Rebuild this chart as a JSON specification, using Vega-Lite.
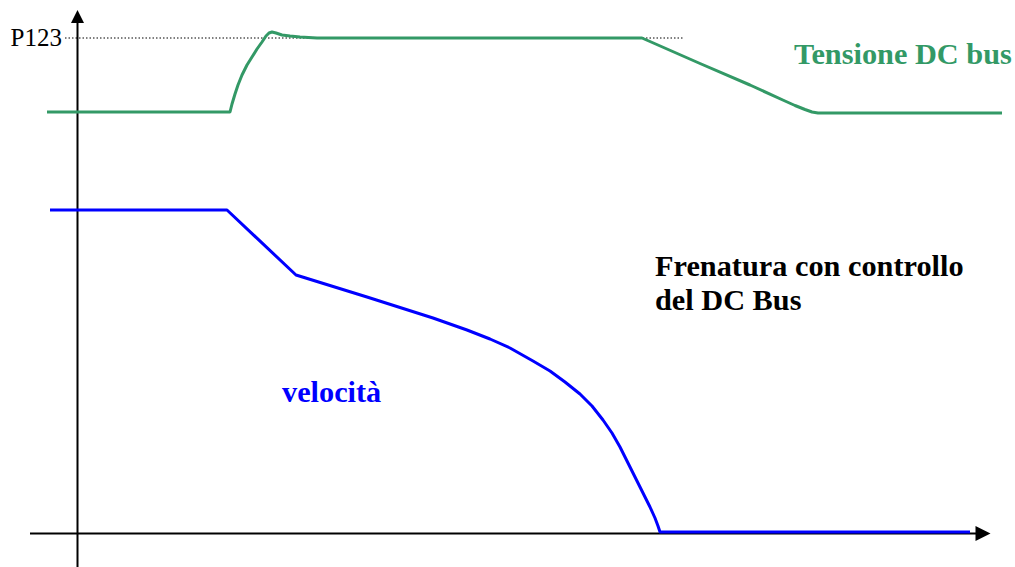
{
  "$schema": "https://vega.github.io/schema/vega-lite/v6.json",
  "width": 1015,
  "height": 567,
  "padding": 0,
  "autosize": "none",
  "config": {"view": {"stroke": null}, "axis": {"grid": false}},
  "datasets": {
    "curves": [
      {"series": "dc", "t": 47, "v": 112},
      {"series": "dc", "t": 230, "v": 112},
      {"series": "dc", "t": 232, "v": 104},
      {"series": "dc", "t": 235, "v": 94},
      {"series": "dc", "t": 238, "v": 85},
      {"series": "dc", "t": 242, "v": 75},
      {"series": "dc", "t": 247, "v": 65},
      {"series": "dc", "t": 252, "v": 57},
      {"series": "dc", "t": 257, "v": 49},
      {"series": "dc", "t": 262, "v": 42},
      {"series": "dc", "t": 266, "v": 36},
      {"series": "dc", "t": 269, "v": 33},
      {"series": "dc", "t": 272, "v": 32},
      {"series": "dc", "t": 276, "v": 33},
      {"series": "dc", "t": 282, "v": 35},
      {"series": "dc", "t": 290, "v": 36},
      {"series": "dc", "t": 300, "v": 37},
      {"series": "dc", "t": 317, "v": 38},
      {"series": "dc", "t": 642, "v": 38},
      {"series": "dc", "t": 700, "v": 63.5},
      {"series": "dc", "t": 750, "v": 85},
      {"series": "dc", "t": 785, "v": 101},
      {"series": "dc", "t": 795, "v": 105.5},
      {"series": "dc", "t": 805, "v": 109.5},
      {"series": "dc", "t": 812, "v": 112},
      {"series": "dc", "t": 818, "v": 113},
      {"series": "dc", "t": 1002, "v": 113},
      {"series": "speed", "t": 50, "v": 210},
      {"series": "speed", "t": 227, "v": 210},
      {"series": "speed", "t": 296, "v": 275},
      {"series": "speed", "t": 367, "v": 297},
      {"series": "speed", "t": 433, "v": 318},
      {"series": "speed", "t": 467, "v": 330},
      {"series": "speed", "t": 490, "v": 339},
      {"series": "speed", "t": 510, "v": 348},
      {"series": "speed", "t": 533, "v": 361},
      {"series": "speed", "t": 550, "v": 371},
      {"series": "speed", "t": 565, "v": 382},
      {"series": "speed", "t": 580, "v": 394},
      {"series": "speed", "t": 592, "v": 406},
      {"series": "speed", "t": 603, "v": 420},
      {"series": "speed", "t": 612, "v": 433},
      {"series": "speed", "t": 620, "v": 447},
      {"series": "speed", "t": 628, "v": 463},
      {"series": "speed", "t": 636, "v": 479},
      {"series": "speed", "t": 644, "v": 495},
      {"series": "speed", "t": 650, "v": 507},
      {"series": "speed", "t": 655, "v": 518},
      {"series": "speed", "t": 658, "v": 526},
      {"series": "speed", "t": 660, "v": 532},
      {"series": "speed", "t": 970, "v": 532}
    ],
    "labels": [
      {"series": "dc", "text": "Tensione DC bus", "t": 794, "v": 64},
      {"series": "note", "text": "Frenatura con controllo", "t": 655, "v": 276},
      {"series": "note", "text": "del DC Bus", "t": 655, "v": 310},
      {"series": "speed", "text": "velocità", "t": 282, "v": 402}
    ]
  },
  "layer": [
    {
      "data": {"values": [{"t": 77.5, "v": 22, "v2": 567}]},
      "mark": {"type": "rule", "color": "black", "strokeWidth": 2},
      "encoding": {
        "x": {"field": "t", "type": "quantitative", "scale": {"domain": [0, 1015]}, "axis": null},
        "y": {"field": "v", "type": "quantitative", "scale": {"domain": [0, 567], "reverse": true}, "axis": null},
        "y2": {"field": "v2"}
      }
    },
    {
      "data": {"values": [{"t": 30, "t2": 980, "v": 533.5}]},
      "mark": {"type": "rule", "color": "black", "strokeWidth": 2},
      "encoding": {
        "x": {"field": "t", "type": "quantitative", "scale": {"domain": [0, 1015]}, "axis": null},
        "x2": {"field": "t2"},
        "y": {"field": "v", "type": "quantitative", "scale": {"domain": [0, 567], "reverse": true}, "axis": null}
      }
    },
    {
      "data": {"values": [{"t": 65, "t2": 683, "v": 38}]},
      "mark": {"type": "rule", "color": "black", "strokeWidth": 1, "strokeDash": [1.5, 2]},
      "encoding": {
        "x": {"field": "t", "type": "quantitative", "scale": {"domain": [0, 1015]}, "axis": null},
        "x2": {"field": "t2"},
        "y": {"field": "v", "type": "quantitative", "scale": {"domain": [0, 567], "reverse": true}, "axis": null}
      }
    },
    {
      "data": {"values": [{"t": 77.5, "v": 16.5}]},
      "mark": {"type": "point", "shape": "M-1,1L1,1L0,-1Z", "filled": true, "color": "black", "opacity": 1, "size": 169},
      "encoding": {
        "x": {"field": "t", "type": "quantitative", "scale": {"domain": [0, 1015]}, "axis": null},
        "y": {"field": "v", "type": "quantitative", "scale": {"domain": [0, 567], "reverse": true}, "axis": null}
      }
    },
    {
      "data": {"values": [{"t": 983, "v": 533.5}]},
      "mark": {"type": "point", "shape": "M-1,-1L-1,1L1,0Z", "filled": true, "color": "black", "opacity": 1, "size": 225},
      "encoding": {
        "x": {"field": "t", "type": "quantitative", "scale": {"domain": [0, 1015]}, "axis": null},
        "y": {"field": "v", "type": "quantitative", "scale": {"domain": [0, 567], "reverse": true}, "axis": null}
      }
    },
    {
      "data": {"name": "curves"},
      "mark": {"type": "line", "strokeWidth": 3, "strokeJoin": "round"},
      "encoding": {
        "x": {"field": "t", "type": "quantitative", "scale": {"domain": [0, 1015]}, "axis": null},
        "y": {"field": "v", "type": "quantitative", "scale": {"domain": [0, 567], "reverse": true}, "axis": null},
        "color": {"field": "series", "type": "nominal", "legend": null, "scale": {"domain": ["dc", "speed", "note"], "range": ["#339966", "#0000ff", "#000000"]}}
      }
    },
    {
      "data": {"values": [{"text": "P123", "t": 62, "v": 46}]},
      "mark": {"type": "text", "align": "right", "baseline": "alphabetic", "font": "Liberation Serif", "fontSize": 25, "color": "black"},
      "encoding": {
        "x": {"field": "t", "type": "quantitative", "scale": {"domain": [0, 1015]}, "axis": null},
        "y": {"field": "v", "type": "quantitative", "scale": {"domain": [0, 567], "reverse": true}, "axis": null},
        "text": {"field": "text"}
      }
    },
    {
      "data": {"name": "labels"},
      "mark": {"type": "text", "align": "left", "baseline": "alphabetic", "font": "Liberation Serif", "fontSize": 30.3, "fontWeight": "bold"},
      "encoding": {
        "x": {"field": "t", "type": "quantitative", "scale": {"domain": [0, 1015]}, "axis": null},
        "y": {"field": "v", "type": "quantitative", "scale": {"domain": [0, 567], "reverse": true}, "axis": null},
        "text": {"field": "text"},
        "color": {"field": "series", "type": "nominal", "legend": null, "scale": {"domain": ["dc", "speed", "note"], "range": ["#339966", "#0000ff", "#000000"]}}
      }
    }
  ]
}
